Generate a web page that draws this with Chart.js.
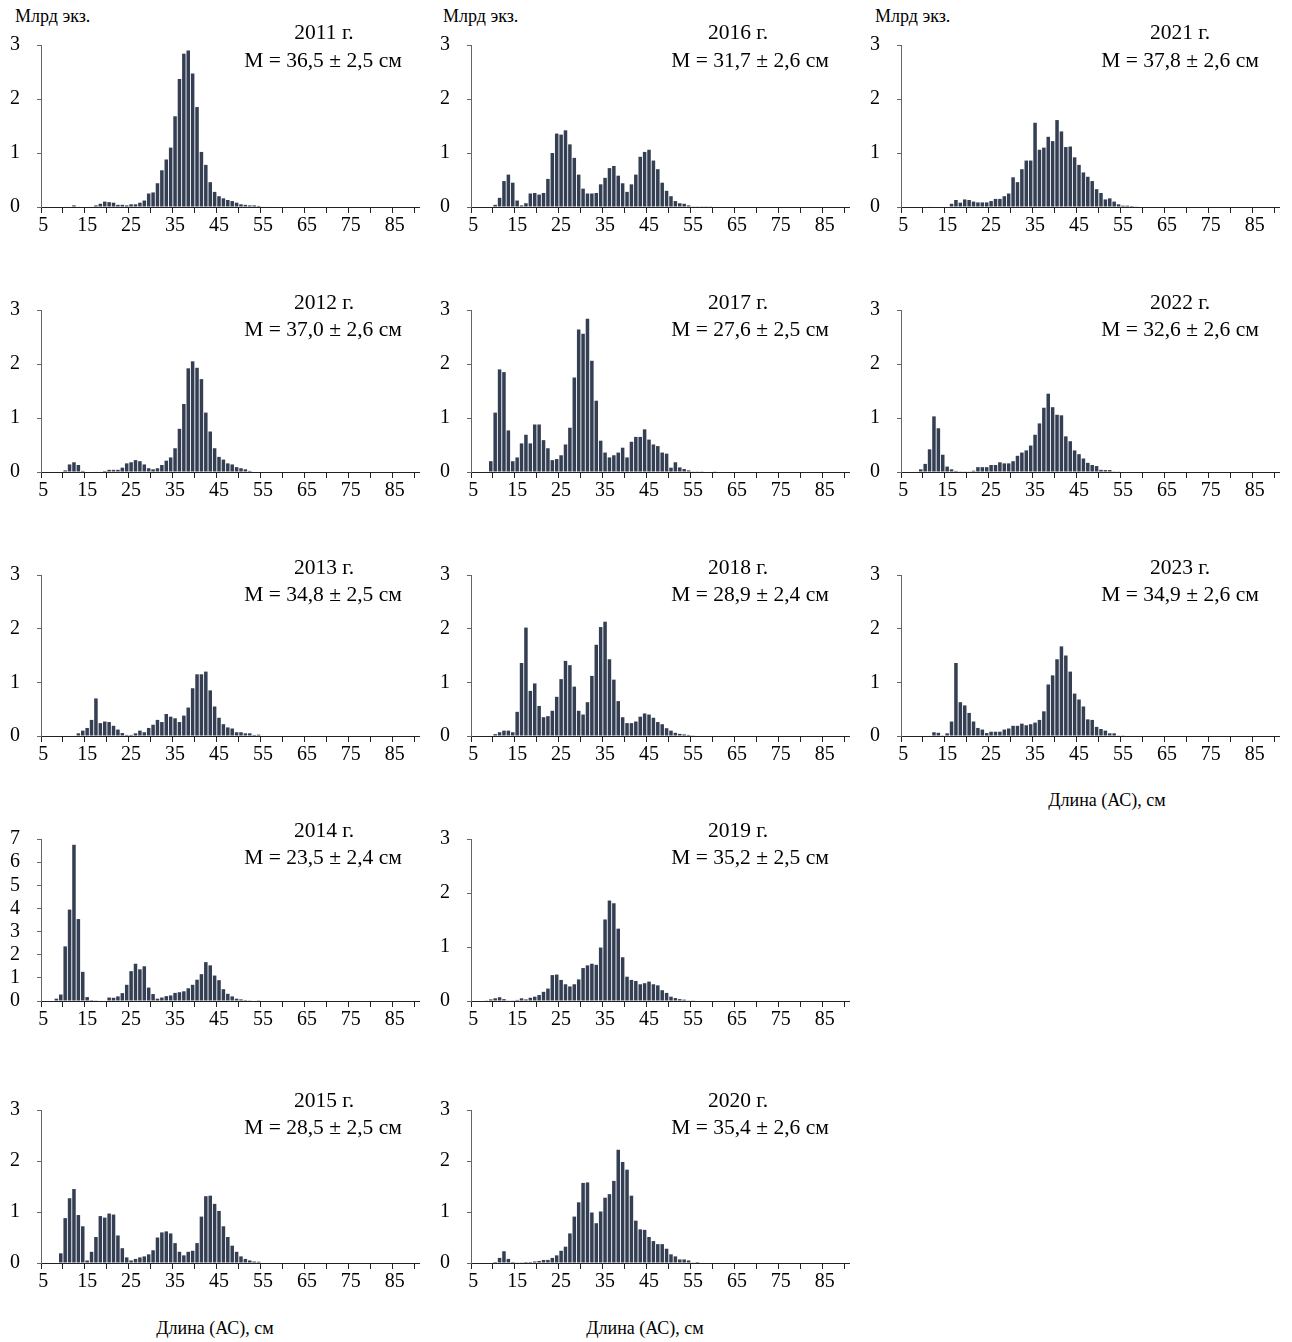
<!DOCTYPE html>
<html lang="ru">
<head>
<meta charset="utf-8">
<title>Размерный состав по годам</title>
<script src="https://cdn.jsdelivr.net/npm/chart.js@4.4.1/dist/chart.umd.min.js"></script>
<style>
  body { margin: 0; background: #fff; width: 1292px; height: 1342px; position: relative; overflow: hidden;
         font-family: 'Liberation Serif', 'Times New Roman', serif; color: #000; }
  canvas { position: absolute; }
  .lbl { position: absolute; font-size: 18px; white-space: nowrap; line-height: 1; }
  .xt { transform: translateX(-50%); }
</style>
</head>
<body>
<div class="lbl" style="left:15px; top:7px">Млрд экз.</div>
<div class="lbl" style="left:443px; top:7px">Млрд экз.</div>
<div class="lbl" style="left:875px; top:7px">Млрд экз.</div>
<div class="lbl xt" style="left:215px; top:1319px">Длина (АС), см</div>
<div class="lbl xt" style="left:645px; top:1319px">Длина (АС), см</div>
<div class="lbl xt" style="left:1107px; top:791px">Длина (АС), см</div>

<script>
// length classes, cm (category axis)
const lengths = [5, 6, 7, 8, 9, 10, 11, 12, 13, 14, 15, 16, 17, 18, 19, 20, 21, 22, 23, 24,
  25, 26, 27, 28, 29, 30, 31, 32, 33, 34, 35, 36, 37, 38, 39, 40, 41, 42, 43, 44,
  45, 46, 47, 48, 49, 50, 51, 52, 53, 54, 55, 56, 57, 58, 59, 60, 61, 62, 63, 64,
  65, 66, 67, 68, 69, 70, 71, 72, 73, 74, 75, 76, 77, 78, 79, 80, 81, 82, 83, 84,
  85, 86, 87, 88, 89, 90];
const xTickLabels = [5, 15, 25, 35, 45, 55, 65, 75, 85];

// abundance, bln ind., from 5 cm upward
const y2011 = [0, 0, 0, 0, 0, 0, 0.01, 0.03, 0.01, 0, 0, 0.01, 0.03, 0.06, 0.1,
  0.09, 0.08, 0.04, 0.04, 0.03, 0.05, 0.05, 0.08, 0.12, 0.25, 0.27, 0.44, 0.68, 0.88, 1.1,
  1.68, 2.37, 2.84, 2.9, 2.47, 1.85, 1.02, 0.78, 0.46, 0.28, 0.2, 0.16, 0.13, 0.11, 0.08,
  0.05, 0.04, 0.03, 0.03, 0.02, 0.01, 0.01, 0.01];
const y2012 = [0, 0, 0, 0, 0, 0.03, 0.14, 0.18, 0.13, 0.02, 0, 0, 0.01, 0.01, 0.02,
  0.04, 0.04, 0.04, 0.08, 0.16, 0.18, 0.22, 0.2, 0.14, 0.07, 0.05, 0.07, 0.13, 0.21, 0.27,
  0.44, 0.8, 1.26, 1.92, 2.05, 1.93, 1.72, 1.1, 0.75, 0.44, 0.28, 0.23, 0.16, 0.14, 0.09,
  0.07, 0.05, 0.02];
const y2013 = [0, 0, 0, 0, 0, 0, 0, 0.01, 0.05, 0.1, 0.15, 0.3, 0.7, 0.24, 0.27,
  0.26, 0.19, 0.12, 0.055, 0.02, 0.02, 0.05, 0.1, 0.07, 0.15, 0.21, 0.3, 0.26, 0.41, 0.36,
  0.33, 0.26, 0.38, 0.53, 0.89, 1.15, 1.15, 1.2, 0.85, 0.55, 0.34, 0.22, 0.16, 0.14, 0.07,
  0.07, 0.05, 0.05, 0.02, 0.025, 0.01];
const y2014 = [0, 0, 0, 0.1, 0.28, 2.36, 3.95, 6.75, 3.54, 1.26, 0.17, 0.04, 0.03, 0.02, 0.02,
  0.15, 0.14, 0.2, 0.34, 0.7, 1.29, 1.61, 1.37, 1.5, 0.58, 0.3, 0.1, 0.15, 0.21, 0.24,
  0.35, 0.38, 0.42, 0.55, 0.7, 0.92, 1.16, 1.68, 1.54, 1.1, 0.9, 0.51, 0.31, 0.2, 0.1,
  0.07, 0.04, 0.03, 0.02, 0.01];
const y2015 = [0, 0, 0, 0.01, 0.19, 0.88, 1.27, 1.45, 0.94, 0.72, 0.05, 0.22, 0.51, 0.92, 0.89,
  0.97, 0.95, 0.54, 0.29, 0.11, 0.05, 0.08, 0.11, 0.13, 0.17, 0.25, 0.5, 0.6, 0.62, 0.58,
  0.39, 0.22, 0.15, 0.22, 0.24, 0.39, 0.91, 1.31, 1.32, 1.16, 1.02, 0.72, 0.51, 0.34, 0.22,
  0.13, 0.08, 0.05, 0.03, 0.025, 0.01, 0.01, 0.01];
const y2016 = [0, 0, 0, 0, 0, 0.04, 0.17, 0.48, 0.6, 0.45, 0.12, 0.03, 0.07, 0.25, 0.26,
  0.23, 0.26, 0.52, 1.0, 1.36, 1.34, 1.42, 1.16, 0.91, 0.6, 0.34, 0.25, 0.25, 0.26, 0.42,
  0.54, 0.72, 0.76, 0.58, 0.44, 0.28, 0.42, 0.6, 0.93, 1.02, 1.06, 0.86, 0.7, 0.45, 0.3,
  0.2, 0.11, 0.07, 0.06, 0.03, 0.012, 0.006, 0.006, 0.006, 0.006];
const y2017 = [0, 0, 0, 0.01, 0.2, 1.1, 1.9, 1.85, 0.77, 0.2, 0.27, 0.53, 0.69, 0.53, 0.88,
  0.88, 0.59, 0.44, 0.22, 0.24, 0.31, 0.51, 0.82, 1.75, 2.64, 2.56, 2.84, 2.06, 1.32, 0.58,
  0.36, 0.27, 0.31, 0.36, 0.45, 0.27, 0.56, 0.65, 0.65, 0.79, 0.6, 0.51, 0.48, 0.36, 0.34,
  0.08, 0.18, 0.085, 0.055, 0.03, 0.012, 0.006, 0.006, 0, 0, 0.006];
const y2018 = [0, 0, 0, 0, 0.01, 0.035, 0.07, 0.1, 0.1, 0.07, 0.45, 1.36, 2.02, 0.84, 0.98,
  0.56, 0.35, 0.37, 0.47, 0.73, 1.06, 1.4, 1.32, 0.92, 0.47, 0.4, 0.63, 1.12, 1.7, 2.03,
  2.13, 1.43, 1.05, 0.65, 0.35, 0.24, 0.24, 0.27, 0.36, 0.42, 0.4, 0.34, 0.26, 0.22, 0.145,
  0.1, 0.06, 0.04, 0.03, 0.02, 0.006];
const y2019 = [0, 0, 0, 0.006, 0.03, 0.05, 0.07, 0.035, 0.012, 0.006, 0.02, 0.05, 0.03, 0.06, 0.08,
  0.11, 0.17, 0.23, 0.48, 0.49, 0.39, 0.31, 0.27, 0.31, 0.4, 0.61, 0.66, 0.69, 0.67, 0.99,
  1.51, 1.86, 1.81, 1.34, 0.81, 0.45, 0.39, 0.37, 0.31, 0.33, 0.36, 0.31, 0.29, 0.2, 0.15,
  0.08, 0.055, 0.035, 0.025, 0.012, 0.006];
const y2020 = [0, 0, 0, 0, 0, 0.02, 0.1, 0.23, 0.08, 0.02, 0.006, 0.006, 0.02, 0.02, 0.03,
  0.04, 0.06, 0.06, 0.1, 0.15, 0.24, 0.32, 0.58, 0.91, 1.19, 1.57, 1.58, 0.99, 0.78, 1.01,
  1.28, 1.35, 1.61, 2.22, 1.98, 1.83, 1.32, 0.83, 0.66, 0.65, 0.51, 0.43, 0.37, 0.37, 0.28,
  0.17, 0.13, 0.07, 0.07, 0.05, 0.013, 0.02];
const y2021 = [0, 0, 0, 0, 0, 0, 0.01, 0, 0, 0, 0, 0.06, 0.13, 0.08, 0.14,
  0.13, 0.1, 0.085, 0.085, 0.085, 0.11, 0.15, 0.15, 0.2, 0.25, 0.55, 0.46, 0.7, 0.86, 0.86,
  1.56, 1.06, 1.1, 1.3, 1.22, 1.61, 1.4, 1.11, 1.12, 0.92, 0.78, 0.64, 0.56, 0.48, 0.33,
  0.26, 0.14, 0.16, 0.1, 0.05, 0.025, 0.025, 0.018, 0.012];
const y2022 = [0, 0, 0, 0.01, 0.05, 0.15, 0.42, 1.03, 0.81, 0.32, 0.1, 0.05, 0.02, 0.006, 0.012,
  0.012, 0.024, 0.09, 0.09, 0.09, 0.13, 0.13, 0.18, 0.16, 0.16, 0.2, 0.3, 0.36, 0.4, 0.49,
  0.69, 0.9, 1.19, 1.45, 1.2, 1.06, 1.05, 0.66, 0.57, 0.4, 0.33, 0.25, 0.17, 0.13, 0.11,
  0.04, 0.036, 0.036, 0.012, 0.012];
const y2023 = [0, 0, 0, 0, 0, 0, 0.01, 0.07, 0.06, 0.006, 0.05, 0.27, 1.36, 0.63, 0.57,
  0.43, 0.27, 0.15, 0.12, 0.055, 0.08, 0.08, 0.08, 0.12, 0.14, 0.19, 0.19, 0.23, 0.2, 0.22,
  0.25, 0.3, 0.46, 0.96, 1.13, 1.43, 1.67, 1.5, 1.2, 0.79, 0.68, 0.55, 0.31, 0.3, 0.17,
  0.13, 0.1, 0.05, 0.05, 0.012, 0.006];

const series = [y2011, y2012, y2013, y2014, y2015, y2016, y2017, y2018, y2019, y2020, y2021, y2022, y2023];
const years = ['2011 г.', '2012 г.', '2013 г.', '2014 г.', '2015 г.', '2016 г.', '2017 г.',
  '2018 г.', '2019 г.', '2020 г.', '2021 г.', '2022 г.', '2023 г.'];
const means = ['M = 36,5 ± 2,5 см', 'M = 37,0 ± 2,6 см', 'M = 34,8 ± 2,5 см', 'M = 23,5 ± 2,4 см',
  'M = 28,5 ± 2,5 см', 'M = 31,7 ± 2,6 см', 'M = 27,6 ± 2,5 см', 'M = 28,9 ± 2,4 см',
  'M = 35,2 ± 2,5 см', 'M = 35,4 ± 2,6 см', 'M = 37,8 ± 2,6 см', 'M = 32,6 ± 2,6 см',
  'M = 34,9 ± 2,6 см'];
const yMax = [3, 3, 3, 7, 3, 3, 3, 3, 3, 3, 3, 3, 3];

// layout: column / row of each panel
const slotCol = [0, 0, 0, 0, 0, 1, 1, 1, 1, 1, 2, 2, 2];
const slotRow = [0, 1, 2, 3, 4, 0, 1, 2, 3, 4, 0, 1, 2];
const colLeft = [41, 471, 901];
const rowTop = [42, 307, 572, 836, 1107];
const rowH = [165, 165, 164, 165, 156];
const yearDx = [283, 267, 279];
const meanDx = [282, 279, 279];
const yearDy = [-12, -7, -7, -8, -9];
const meanDy = [16, 20, 20, 19, 18];

const PLOT_W = 378, PAD_L = 41, PAD_T = 26, PAD_R = 12, PAD_B = 32;
const FONT = "'Liberation Serif', 'Times New Roman', serif";

const captionPlugin = {
  id: 'caption',
  afterDraw(chart, args, opts) {
    const { ctx, chartArea } = chart;
    ctx.save();
    ctx.font = '21.5px ' + FONT;
    ctx.fillStyle = '#000';
    ctx.textAlign = 'center';
    ctx.textBaseline = 'middle';
    ctx.fillText(opts.year, chartArea.left + opts.yearX, chartArea.top + opts.yearY);
    ctx.fillText(opts.mean, chartArea.left + opts.meanX, chartArea.top + opts.meanY);
    ctx.restore();
  }
};

series.forEach((vals, i) => {
  const c = slotCol[i], r = slotRow[i];
  const cv = document.createElement('canvas');
  cv.width = PAD_L + PLOT_W + PAD_R;
  cv.height = PAD_T + rowH[r] + PAD_B;
  cv.style.left = (colLeft[c] - PAD_L) + 'px';
  cv.style.top = (rowTop[r] - PAD_T) + 'px';
  document.body.appendChild(cv);

  new Chart(cv.getContext('2d'), {
    type: 'bar',
    data: {
      labels: lengths,
      datasets: [{
        data: vals,
        backgroundColor: '#353f53',
        borderWidth: 0,
        barPercentage: 0.8,
        categoryPercentage: 1
      }]
    },
    options: {
      responsive: false,
      animation: false,
      layout: { padding: { top: PAD_T, left: 0, right: PAD_R, bottom: 0 } },
      plugins: {
        legend: { display: false },
        tooltip: { enabled: false },
        caption: {
          year: years[i], mean: means[i],
          yearX: yearDx[c], yearY: yearDy[r],
          meanX: meanDx[c], meanY: meanDy[r]
        }
      },
      scales: {
        x: {
          offset: true,
          afterFit: (s) => { s.height = PAD_B; },
          grid: {
            offset: true,
            drawOnChartArea: false,
            drawTicks: true,
            tickLength: 6,
            color: (ctx) => (ctx.index !== undefined && ctx.index % 5 === 0) ? '#222' : 'rgba(0,0,0,0)'
          },
          border: { display: true, color: '#222', width: 1 },
          ticks: {
            autoSkip: false,
            maxRotation: 0,
            padding: 1,
            color: '#000',
            font: { family: FONT, size: 20 },
            callback: (v, idx) => xTickLabels.includes(lengths[idx]) ? String(lengths[idx]) : ''
          }
        },
        y: {
          min: 0,
          max: yMax[i],
          afterFit: (s) => { s.width = PAD_L; },
          grid: { drawOnChartArea: false, drawTicks: true, tickLength: 4, color: '#666' },
          border: { display: true, color: '#666', width: 1 },
          ticks: {
            stepSize: 1,
            autoSkip: false,
            padding: 17,
            color: '#000',
            font: { family: FONT, size: 20 }
          }
        }
      }
    },
    plugins: [captionPlugin]
  });
});
</script>
</body>
</html>
